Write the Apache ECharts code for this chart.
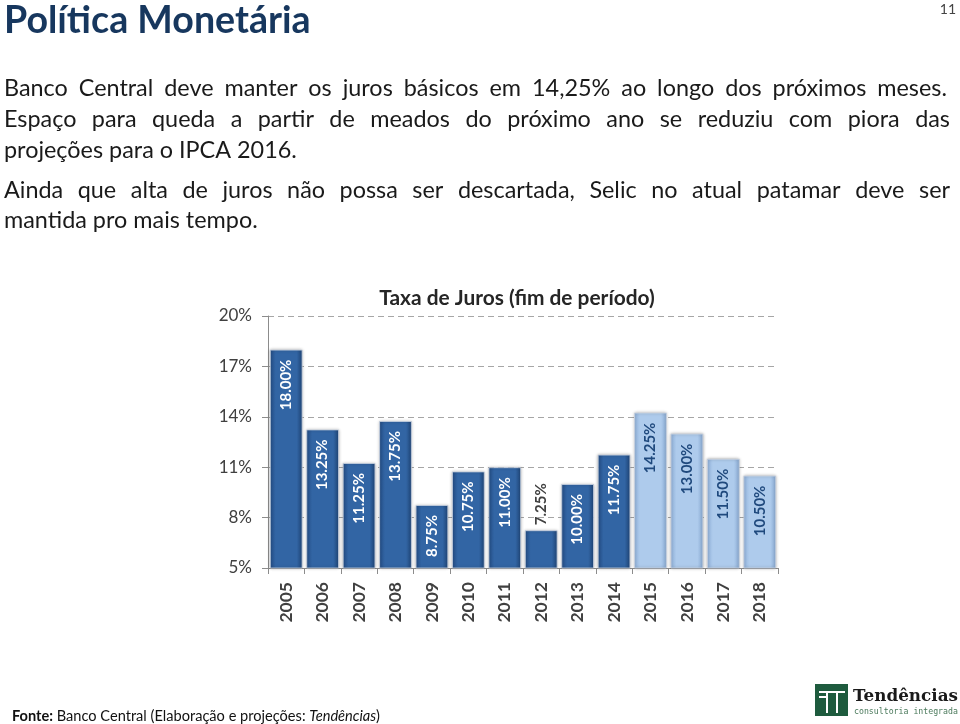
<!DOCTYPE html>
<html>
<head>
<meta charset="utf-8">
<script src="https://cdn.jsdelivr.net/npm/echarts@6/dist/echarts.min.js"></script>
<style>
html,body{margin:0;padding:0;background:#fff;}
#main{width:960px;height:724px;}
</style>
</head>
<body>
<div id="main"></div>
<script>
// ---- data ----
const years = ['2005','2006','2007','2008','2009','2010','2011','2012','2013','2014','2015','2016','2017','2018'];
const rates = [18.00, 13.25, 11.25, 13.75, 8.75, 10.75, 11.00, 7.25, 10.00, 11.75, 14.25, 13.00, 11.50, 10.50];
const projected = [false,false,false,false,false,false,false,false,false,false,true,true,true,true];
const yMin = 5, yMax = 20, yStep = 3;

const heading = 'Política Monetária';
const pageNumber = '11';
const chartTitle = 'Taxa de Juros (fim de período)';
const paragraphLines = [
  'Banco Central deve manter os juros básicos em 14,25% ao longo dos próximos meses.',
  'Espaço para queda a partir de meados do próximo ano se reduziu com piora das',
  'projeções para o IPCA 2016.',
  'Ainda que alta de juros não possa ser descartada, Selic no atual patamar deve ser',
  'mantida pro mais tempo.'
];
const justifiedLines = [true, true, false, true, false];
const logoName = 'Tendências';
const logoTagline = 'consultoria integrada';

// ---- layout helpers ----
const FONT = 'Lato';
const mctx = document.createElement('canvas').getContext('2d');
function measure(t, size, weight, family) {
  mctx.font = (weight || 'normal') + ' ' + size + 'px ' + (family || FONT);
  return mctx.measureText(t).width;
}
function fitSize(t, width, weight, family) {
  return 100 * width / measure(t, 100, weight, family);
}

const graphics = [];
// heading
const hSize = fitSize(heading, 307, 'bold');
graphics.push({
  type: 'text', left: 4, top: 2,
  style: {
    text: heading, font: 'bold ' + hSize.toFixed(1) + 'px ' + FONT, fill: '#17375E',
    shadowColor: 'rgba(0,0,0,0.35)', shadowBlur: 3, shadowOffsetX: 2, shadowOffsetY: 2
  }
});
graphics.push({
  type: 'text', x: 956, y: 9,
  style: { text: pageNumber, font: '14px ' + FONT, fill: '#444', align: 'right', verticalAlign: 'middle' }
});

// paragraph
const pSize = fitSize(paragraphLines[2], 293);
const pFont = pSize.toFixed(2) + 'px ' + FONT;
const lineY = [88, 119, 150, 190, 220];
const rightEdge = [947, 950, 950, 950, 950];
paragraphLines.forEach((line, i) => {
  const y = lineY[i];
  if (!justifiedLines[i]) {
    graphics.push({ type: 'text', x: 4, y: y, style: { text: line, font: pFont, fill: '#1a1a1a', verticalAlign: 'middle' } });
    return;
  }
  const words = line.split(' ');
  const widths = words.map(w => measure(w, pSize));
  const total = widths.reduce((a, b) => a + b, 0);
  const gap = (rightEdge[i] - 4 - total) / (words.length - 1);
  let x = 4;
  words.forEach((w, k) => {
    graphics.push({ type: 'text', x: x, y: y, style: { text: w, font: pFont, fill: '#1a1a1a', verticalAlign: 'middle' } });
    x += widths[k] + gap;
  });
});

// chart title
const tSize = fitSize(chartTitle, 275, 'bold');
graphics.push({
  type: 'text', x: 517, y: 298,
  style: { text: chartTitle, font: 'bold ' + tSize.toFixed(1) + 'px ' + FONT, fill: '#262626', align: 'center', verticalAlign: 'middle' }
});

// footer
const fSize = 14.6;
graphics.push({
  type: 'text', x: 12, y: 716,
  style: {
    text: '{b|Fonte:} Banco Central (Elaboração e projeções: {i|Tendências})',
    font: fSize + 'px ' + FONT, fill: '#111', verticalAlign: 'middle',
    rich: {
      b: { fontWeight: 'bold', fontSize: fSize, fontFamily: FONT, fill: '#111' },
      i: { fontStyle: 'italic', fontSize: fSize, fontFamily: FONT, fill: '#111' }
    }
  }
});

// logo
graphics.push({ type: 'rect', shape: { x: 815, y: 684, width: 33, height: 32 }, style: { fill: '#1E5B3E' } });
graphics.push({ type: 'rect', shape: { x: 819, y: 691, width: 26, height: 2 }, style: { fill: '#fff' } });
graphics.push({ type: 'rect', shape: { x: 826, y: 693, width: 2, height: 20 }, style: { fill: '#fff' } });
graphics.push({ type: 'rect', shape: { x: 836, y: 693, width: 2, height: 20 }, style: { fill: '#fff' } });
graphics.push({ type: 'rect', shape: { x: 819, y: 696, width: 7, height: 2 }, style: { fill: '#fff' } });
const lnSize = fitSize(logoName, 105, 'bold', '"DejaVu Serif"');
graphics.push({
  type: 'text', x: 853, y: 697,
  style: { text: logoName, font: 'bold ' + lnSize.toFixed(1) + 'px "DejaVu Serif"', fill: '#1a1a1a', verticalAlign: 'middle' }
});
const ltSize = fitSize(logoTagline, 104, 'normal', '"DejaVu Sans Mono"');
graphics.push({
  type: 'text', x: 854, y: 712,
  style: { text: logoTagline, font: ltSize.toFixed(2) + 'px "DejaVu Sans Mono"', fill: '#4b7a5c', verticalAlign: 'middle' }
});

// ---- bars ----
const darkFill = { type: 'linear', x: 0, y: 0, x2: 1, y2: 0, colorStops: [
  { offset: 0, color: '#234c84' }, { offset: 0.18, color: '#3265a4' },
  { offset: 0.82, color: '#3265a4' }, { offset: 1, color: '#1f4577' } ] };
const lightFill = { type: 'linear', x: 0, y: 0, x2: 1, y2: 0, colorStops: [
  { offset: 0, color: '#8fb0d9' }, { offset: 0.18, color: '#aecbec' },
  { offset: 0.82, color: '#aecbec' }, { offset: 1, color: '#87a8d1' } ] };

const barData = rates.map((v, i) => {
  const item = {
    value: v,
    itemStyle: { color: projected[i] ? lightFill : darkFill }
  };
  const lbl = { color: projected[i] ? '#1F497D' : '#ffffff' };
  if (v - yMin < 3) {
    Object.assign(lbl, { position: 'top', align: 'left', distance: 5, color: '#404040' });
  }
  item.label = lbl;
  return item;
});

const chart = echarts.init(document.getElementById('main'), null, { renderer: 'canvas' });
chart.setOption({
  backgroundColor: '#ffffff',
  animation: false,
  textStyle: { fontFamily: FONT },
  grid: { left: 268, right: 182, top: 316, bottom: 156, containLabel: false },
  xAxis: {
    type: 'category', data: years,
    axisLine: { show: true, lineStyle: { color: '#8c8c8c', width: 1 } },
    axisTick: { show: true, length: 6, alignWithLabel: false, lineStyle: { color: '#8c8c8c' } },
    axisLabel: { rotate: 90, margin: 14, fontSize: 17.5, color: '#404040', fontFamily: FONT, fontWeight: 'bold' }
  },
  yAxis: {
    type: 'value', min: yMin, max: yMax, interval: yStep,
    axisLine: { show: true, lineStyle: { color: '#8c8c8c', width: 1 } },
    axisTick: { show: true, length: 6, lineStyle: { color: '#8c8c8c' } },
    axisLabel: { formatter: '{value}%', fontSize: 17, color: '#404040', margin: 16, fontFamily: FONT },
    splitLine: { show: true, lineStyle: { color: '#a6a6a6', type: [6, 4], width: 1 } }
  },
  series: [{
    type: 'bar',
    data: barData,
    barCategoryGap: '10%',
    itemStyle: { shadowColor: 'rgba(0,0,0,0.3)', shadowBlur: 3, borderColor: 'rgba(200,210,225,0.8)', borderWidth: 1 },
    label: {
      show: true, position: 'insideTop', rotate: 90, align: 'right', verticalAlign: 'middle',
      distance: 10, fontSize: 15, fontWeight: 'bold', fontFamily: FONT,
      formatter: p => p.value.toFixed(2) + '%'
    }
  }],
  graphic: graphics
});
</script>
</body>
</html>
